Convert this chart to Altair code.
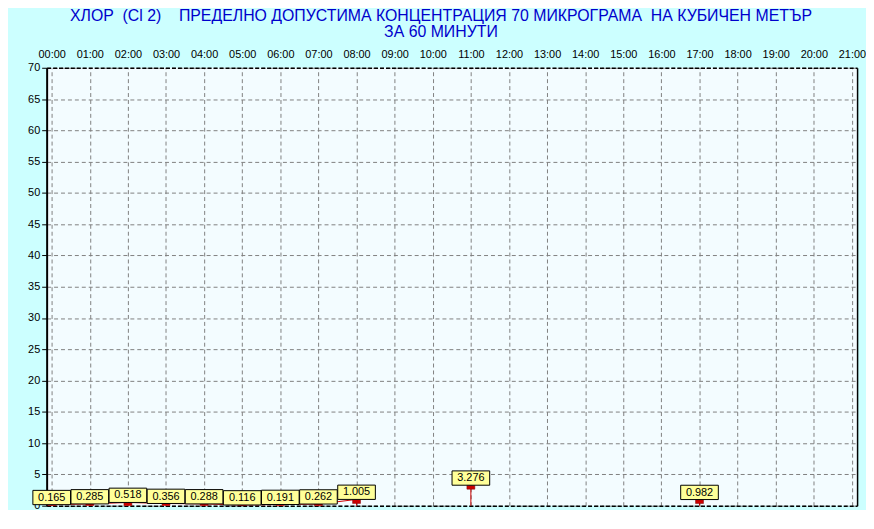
import altair as alt
import pandas as pd

# ---- data ----
hours = [0, 1, 2, 3, 4, 5, 6, 7, 8, 11, 17]
values = [0.165, 0.285, 0.518, 0.356, 0.288, 0.116, 0.191, 0.262, 1.005, 3.276, 0.982]
hour_ticks = list(range(0, 22))
y_ticks = list(range(0, 71, 5))
title_lines = [
    "ХЛОР\u00a0\u00a0(Cl 2)\u00a0\u00a0\u00a0\u00a0ПРЕДЕЛНО ДОПУСТИМА КОНЦЕНТРАЦИЯ 70 МИКРОГРАМА\u00a0\u00a0НА КУБИЧЕН МЕТЪР",
    "ЗА 60 МИНУТИ",
]

# contiguous-hour segments for the connecting line
seg = []
s = 0
for i, h in enumerate(hours):
    if i > 0 and h - hours[i - 1] != 1:
        s += 1
    seg.append(s)

df = pd.DataFrame({"hour": hours, "value": values, "seg": seg, "zero": [0] * len(hours)})

FONT = "Liberation Sans"
xscale = alt.Scale(domain=[-0.1325, 21.135], nice=False, zero=False)
yscale = alt.Scale(domain=[0, 70], nice=False, zero=False)

x_top = alt.Axis(
    orient="top", values=hour_ticks,
    labelExpr="(datum.value < 10 ? '0' : '') + datum.value + ':00'",
    ticks=False, labelPadding=8, labelFontSize=11, labelFont=FONT, labelColor="black",
    labelFlush=False, labelOverlap=False,
    grid=True, gridColor="#808080", gridDash=[4, 3], gridWidth=1,
    domain=True, domainColor="black", domainDash=[4, 2], domainWidth=1.5, title=None,
)
x_bottom = alt.Axis(
    orient="bottom", labels=False, ticks=False, grid=False,
    domain=True, domainColor="black", domainDash=[4, 2], domainWidth=1.5, title=None,
)
y_left = alt.Axis(
    orient="left", values=y_ticks, tickSize=5, tickColor="black", tickWidth=1,
    labelPadding=2, labelFontSize=11, labelFont=FONT, labelColor="black",
    grid=True, gridColor="#808080", gridDash=[4, 3], gridWidth=1,
    domain=True, domainColor="black", domainWidth=2, title=None,
)
y_right = alt.Axis(
    orient="right", labels=False, ticks=False, grid=False,
    domain=True, domainColor="black", domainWidth=1.5, title=None,
)

base = alt.Chart(df)

line = base.mark_line(color="#CC0000", strokeWidth=1).encode(
    x=alt.X("hour:Q", scale=xscale, axis=x_top),
    y=alt.Y("value:Q", scale=yscale, axis=y_left),
    detail="seg:N",
)
rules = base.mark_rule(color="#CC0000", strokeWidth=1).encode(
    x=alt.X("hour:Q", scale=xscale, axis=x_bottom),
    y=alt.Y("value:Q", scale=yscale, axis=y_right),
    y2="zero:Q",
)
markers = base.mark_point(
    shape="M-1,0L1,0L1,1L-1,1Z", size=64, filled=True, clip=True,
    fill="#CC0000", stroke="#7a0000", strokeWidth=0.5, opacity=1,
).encode(
    x=alt.X("hour:Q", scale=xscale, axis=None),
    y=alt.Y("value:Q", scale=yscale, axis=None),
)
boxes = base.mark_point(
    shape="M-1,-0.76L1,-0.76L1,0L-1,0Z", size=1444, filled=True,
    fill="#FFFF99", stroke="black", strokeWidth=1, opacity=1,
).encode(
    x=alt.X("hour:Q", scale=xscale, axis=None),
    y=alt.Y("value:Q", scale=yscale, axis=None),
)
texts = base.mark_text(
    font=FONT, fontSize=11, color="black", align="center", baseline="middle", dy=-7,
).encode(
    x=alt.X("hour:Q", scale=xscale, axis=None),
    y=alt.Y("value:Q", scale=yscale, axis=None),
    text=alt.Text("value:Q", format=".3f"),
)

chart = (
    alt.layer(line, rules, markers, boxes, texts)
    .resolve_scale(x="independent", y="independent")
    .properties(
        width=818, height=442,
        autosize=alt.AutoSizeParams(type="none"),
        padding={"left": 39, "top": 58, "right": 9, "bottom": 2},
        title=alt.Title(
            title_lines, fontSize=16, font=FONT, fontWeight="normal", color="#0000CC",
            anchor="middle", frame="group", dx=-11, dy=-1, offset=8, lineHeight=16,
        ),
    )
    .configure(background="#CCFFFF")
    .configure_view(strokeWidth=0, fill="#F3FCFF")
)

chart.save("out.html", embed_options={"renderer": "svg", "actions": False})
